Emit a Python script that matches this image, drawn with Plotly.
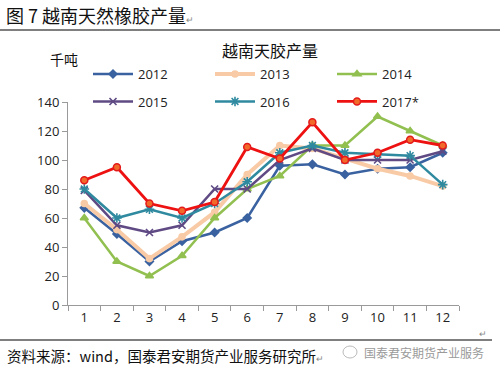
import plotly.graph_objects as go

months = [1, 2, 3, 4, 5, 6, 7, 8, 9, 10, 11, 12]
month_labels = ["1", "2", "3", "4", "5", "6", "7", "8", "9", "10", "11", "12"]
y2012 = [67, 49, 30, 44, 50, 60, 96, 97, 90, 94, 95, 105]
y2013 = [70, 52, 32, 47, 64, 90, 110, 108, 101, 94, 89, 82]
y2014 = [60, 30, 20, 34, 60, 80, 89, 110, 110, 130, 120, 110]
y2015 = [79, 55, 50, 55, 80, 80, 100, 108, 100, 100, 100, 106]
y2016 = [80, 60, 66, 60, 70, 85, 105, 110, 105, 104, 103, 83]
y2017 = [86, 95, 70, 65, 71, 109, 101, 126, 100, 105, 114, 110]
y_ticks = [0, 20, 40, 60, 80, 100, 120, 140]

W, H = 500, 373
L, R, T, B = 68, 459, 102, 305


def xp(px):
    return (px - L) / (R - L)


def yp(py):
    return (B - py) / (B - T)


# name, values, colour, symbol, size, line width, legend id, legend px x, legend px y
series = [
    ("2012", y2012, "#3A62A0", "diamond", 6, 2.5, "legend", 88, 74),
    ("2013", y2013, "#F8CBA6", "circle", 6, 4, "legend2", 210, 74),
    ("2014", y2014, "#92C050", "triangle-up", 7, 2.5, "legend3", 332, 74),
    ("2015", y2015, "#5F4A84", "x-thin-open", 7, 2.5, "legend4", 88, 101.5),
    ("2016", y2016, "#2F8AA0", "asterisk-open", 8, 2.5, "legend5", 210, 101.5),
    ("2017*", y2017, "#EE1111", "circle", 7, 2.8, "legend6", 332, 101.5),
]

font_main = "Open Sans, Noto Sans CJK SC, sans-serif"

fig = go.Figure()
legends = {}
for name, ys, color, sym, size, lw, leg, lx, ly in series:
    marker = dict(symbol=sym, size=size, color=color,
                  line=dict(color=color, width=1.6))
    if name == "2017*":
        marker = dict(symbol="circle", size=size, color="#F26A2A",
                      line=dict(color="#E41A1A", width=1.5))
    fig.add_trace(go.Scatter(
        x=months, y=ys, name=name, mode="lines+markers",
        line=dict(color=color, width=lw), marker=marker, legend=leg,
    ))
    legends[leg] = dict(
        x=xp(lx), y=yp(ly), xref="paper", yref="paper",
        xanchor="left", yanchor="middle", orientation="h", itemwidth=40,
        font=dict(family=font_main, size=13, color="#222222"),
        bgcolor="rgba(0,0,0,0)",
    )

fig.update_layout(
    width=W, height=H,
    margin=dict(l=L, r=W - R, t=T, b=H - B, pad=0),
    paper_bgcolor="white", plot_bgcolor="white",
    showlegend=True,
    font=dict(family=font_main, size=13, color="#222222"),
    **legends,
)

fig.update_xaxes(
    range=[0.5, 12.5], tickmode="array", tickvals=months, ticktext=month_labels,
    ticks="", showgrid=False, zeroline=False,
    showline=True, linecolor="#9A9A9A", linewidth=1,
    tickfont=dict(family=font_main, size=13, color="#222222"),
    minor=dict(tickmode="array", tickvals=[m + 0.5 for m in [0] + months],
               ticks="outside", ticklen=5, tickcolor="#9A9A9A", showgrid=False),
)
fig.update_yaxes(
    range=[0, 140], tickmode="array", tickvals=y_ticks,
    ticks="outside", ticklen=5, tickcolor="#9A9A9A",
    showgrid=False, zeroline=False,
    showline=True, linecolor="#9A9A9A", linewidth=1,
    tickfont=dict(family=font_main, size=13, color="#222222"),
)

cjk = "Noto Sans CJK SC"
annotations = [
    dict(text="图 7 越南天然橡胶产量<span style='font-size:9px;color:#888'>↵</span>",
         x=xp(4), y=yp(15), xanchor="left", yanchor="middle",
         font=dict(family=cjk, size=18, color="#111111")),
    dict(text="越南天胶产量", x=xp(270), y=yp(50), xanchor="center", yanchor="middle",
         font=dict(family=cjk, size=16, color="#111111")),
    dict(text="千吨", x=xp(64), y=yp(59), xanchor="center", yanchor="middle",
         font=dict(family=cjk, size=14, color="#111111")),
    dict(text="资料来源：wind，国泰君安期货产业服务研究所<span style='font-size:9px;color:#888'>↵</span>",
         x=xp(5), y=yp(355), xanchor="left", yanchor="middle",
         font=dict(family=cjk, size=14.5, color="#111111")),
    dict(text="国泰君安期货产业服务", x=xp(486), y=yp(352), xanchor="right", yanchor="middle",
         font=dict(family=cjk, size=12, color="#9A9A9A")),
    dict(text="↵", x=xp(483), y=yp(333), xanchor="center", yanchor="middle",
         font=dict(family=cjk, size=9, color="#888888")),
]
for a in annotations:
    a.update(xref="paper", yref="paper", showarrow=False)
fig.update_layout(annotations=annotations)

fig.update_layout(shapes=[
    dict(type="line", xref="paper", yref="paper", x0=xp(0), x1=xp(500),
         y0=yp(30), y1=yp(30), line=dict(color="#555555", width=1.5)),
    dict(type="line", xref="paper", yref="paper", x0=xp(0), x1=xp(492),
         y0=yp(340), y1=yp(340), line=dict(color="#555555", width=1.5)),
    dict(type="circle", xref="paper", yref="paper", x0=xp(343), x1=xp(357),
         y0=yp(346), y1=yp(358), line=dict(color="#BBBBBB", width=1)),
])

fig.write_html("out.html", config={"displayModeBar": False},
               post_script="document.body.style.margin='0px';document.body.style.padding='0px';")
